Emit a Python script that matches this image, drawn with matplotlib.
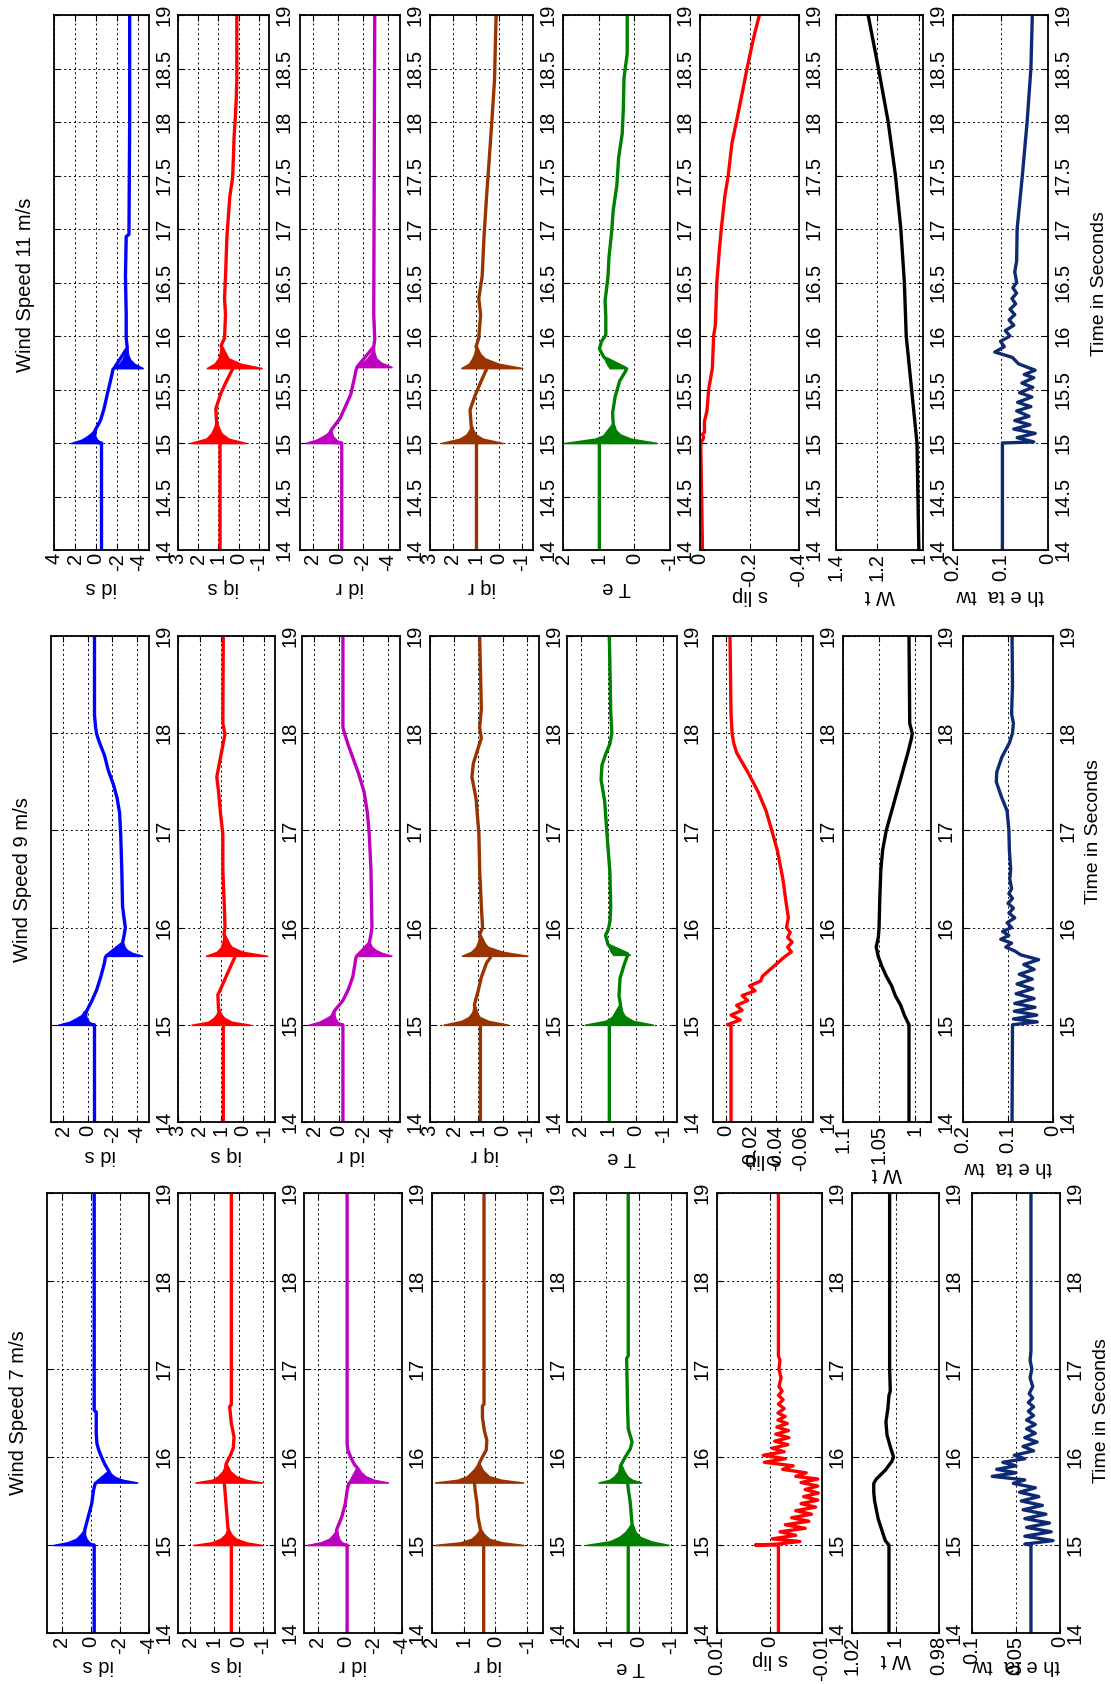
import matplotlib.pyplot as plt

plt.rcParams['font.family'] = ['Liberation Sans Narrow', 'Liberation Sans', 'DejaVu Sans']
plt.rcParams['font.size'] = 14.5

# ---------------- data ----------------
titles = ['Wind Speed 11 m/s', 'Wind Speed 9 m/s', 'Wind Speed 7 m/s']
names = ['id s', 'iq s', 'id r', 'iq r', 'T e', 's lip', 'W t', 'th e ta  tw']
colors = ['#0000ff', '#ff0000', '#bf00bf', '#993300', '#008000', '#ff0000', '#000000', '#0f2a75']

# ---- wind speed 7 m/s
ids7_t = [14, 15.0, 15.01, 15.17, 15.32, 15.47, 15.62, 15.7, 15.71, 15.83, 15.92, 16.0, 16.08, 16.15, 16.26, 16.51, 16.53, 19]
ids7_v = [-0.24, -0.24, 0.6, 0.41, 0.17, -0.07, -0.19, -0.31, -0.4, -1.27, -0.96, -0.74, -0.55, -0.43, -0.38, -0.38, -0.24, -0.24]
ids7_bursts = [([15.0, 15.03, 15.07, 15.12, 15.17], [2.56, 1.6, 1.0, 0.7, 0.45], [-0.24, 0.1, 0.3, 0.4, 0.4]),
               ([15.71, 15.74, 15.77, 15.8, 15.83], [-0.4, -0.6, -0.8, -1.0, -1.2], [-3.19, -2.2, -1.7, -1.45, -1.3])]

iqs7_t = [14, 15.0, 15.19, 15.47, 15.7, 15.71, 15.92, 16.0, 16.1, 16.23, 16.38, 16.57, 16.6, 19]
iqs7_v = [0.3, 0.3, 0.44, 0.52, 0.59, 0.59, 0.52, 0.37, 0.22, 0.19, 0.3, 0.37, 0.3, 0.3]
iqs7_bursts = [([15.0, 15.03, 15.07, 15.12, 15.19], [1.85, 1.1, 0.75, 0.55, 0.45], [-0.96, -0.3, 0.1, 0.3, 0.43]),
               ([15.71, 15.74, 15.78, 15.84, 15.92], [1.78, 1.1, 0.85, 0.65, 0.53], [-0.96, -0.3, 0.1, 0.35, 0.5])]

idr7_t = [14, 15.0, 15.01, 15.17, 15.32, 15.47, 15.62, 15.7, 15.71, 15.87, 15.92, 16.0, 16.08, 16.15, 19]
idr7_v = [-0.08, -0.08, 0.5, 0.68, 0.3, 0.05, -0.08, -0.2, -0.3, -0.84, -0.58, -0.33, -0.13, -0.08, -0.08]
idr7_bursts = [([15.0, 15.03, 15.07, 15.12, 15.17], [2.76, 1.8, 1.2, 0.9, 0.7], [-0.05, 0.3, 0.5, 0.6, 0.66]),
               ([15.71, 15.74, 15.78, 15.83, 15.87], [-0.28, -0.45, -0.6, -0.75, -0.84], [-2.99, -2.0, -1.4, -1.05, -0.9])]

iqr7_t = [14, 15.0, 15.17, 15.32, 15.47, 15.62, 15.7, 15.71, 15.92, 16.0, 16.08, 16.19, 16.3, 16.45, 16.58, 16.6, 19]
iqr7_v = [0.37, 0.37, 0.47, 0.55, 0.58, 0.64, 0.66, 0.66, 0.52, 0.41, 0.29, 0.27, 0.35, 0.41, 0.41, 0.36, 0.36]
iqr7_bursts = [([15.0, 15.03, 15.07, 15.12, 15.17], [1.9, 1.1, 0.75, 0.6, 0.5], [-0.87, -0.2, 0.2, 0.35, 0.45]),
               ([15.71, 15.74, 15.78, 15.85, 15.92], [1.9, 1.2, 0.9, 0.7, 0.55], [-0.87, -0.2, 0.2, 0.4, 0.5])]

te7_t = [14, 15.0, 15.23, 15.49, 15.64, 15.71, 15.72, 15.9, 16.0, 16.09, 16.17, 16.32, 16.55, 17.12, 17.15, 19]
te7_v = [0.32, 0.32, 0.2, 0.26, 0.32, 0.34, 0.6, 0.56, 0.41, 0.26, 0.2, 0.32, 0.34, 0.37, 0.32, 0.32]
te7_bursts = [([15.0, 15.04, 15.09, 15.15, 15.23], [1.62, 0.9, 0.6, 0.4, 0.25], [-0.93, -0.4, -0.05, 0.1, 0.18]),
              ([15.71, 15.74, 15.78, 15.84, 15.9], [1.24, 0.9, 0.75, 0.62, 0.56], [-0.08, 0.2, 0.35, 0.45, 0.52])]

slip7_t = [14.0, 15.0, 15.0, 15.01, 15.04, 15.07, 15.11, 15.15, 15.19, 15.23, 15.27, 15.31, 15.35, 15.39,
           15.43, 15.47, 15.51, 15.55, 15.59, 15.63, 15.67, 15.71, 15.75, 15.78, 15.82, 15.86, 15.9, 15.94,
           15.98, 16.02, 16.06, 16.1, 16.14, 16.18, 16.22, 16.26, 16.3, 16.34, 16.38, 16.42, 16.46, 16.5,
           16.55, 16.6, 16.65, 16.7, 16.75, 16.8, 16.9, 17.0, 17.1, 17.15, 19.0]
slip7_v = [-.0017, -.0017, .0027, -.0015, -.0058, -.0005, -.0050, -.0020, -.0068, -.0030, -.0075, -.0042,
           -.0080, -.0050, -.0088, -.0060, -.0092, -.0065, -.0093, -.0068, -.0092, -.0060, -.0092, -.0050,
           -.0070, -.0025, -.0045, .0010, -.0030, .0012, -.0028, -.0005, -.0035, -.0010, -.0037, -.0012,
           -.0036, -.0014, -.0034, -.0016, -.0030, -.0016, -.0028, -.0017, -.0026, -.0017, -.0024, -.0018,
           -.0022, -.0018, -.0020, -.0017, -.0017]

wt7_t = [14, 15.0, 15.05, 15.2, 15.3, 15.4, 15.5, 15.6, 15.7, 15.75, 15.85, 15.95, 16.0, 16.1, 16.25, 16.4, 16.55, 16.7, 16.75, 17.0, 19]
wt7_v = [1.003, 1.003, 1.0047, 1.0067, 1.008, 1.0088, 1.0096, 1.010, 1.010, 1.0088, 1.0047, 1.0017, 1.0009,
         1.0022, 1.0039, 1.0044, 1.0035, 1.003, 1.0024, 1.0027, 1.0027]

theta7_t = [14.0, 15.0, 15.01, 15.05, 15.1, 15.15, 15.2, 15.25, 15.3, 15.35, 15.4, 15.45, 15.5, 15.55, 15.6,
            15.65, 15.7, 15.74, 15.78, 15.82, 15.86, 15.9, 15.94, 15.98, 16.02, 16.07, 16.12, 16.17, 16.22,
            16.27, 16.32, 16.37, 16.42, 16.47, 16.52, 16.57, 16.62, 16.67, 16.72, 16.8, 16.9, 17.0, 17.1, 17.2, 19.0]
theta7_v = [.033, .033, .040, .008, .040, .010, .038, .012, .040, .016, .042, .020, .044, .024, .046, .028,
            .053, .040, .077, .050, .072, .050, .065, .040, .052, .030, .042, .026, .040, .028, .038, .028,
            .038, .030, .036, .030, .036, .031, .035, .031, .034, .032, .034, .033, .033]

# ---- wind speed 9 m/s
ids9_t = [14, 15.0, 15.01, 15.14, 15.25, 15.36, 15.5, 15.64, 15.69, 15.71, 15.84, 15.93, 16.0, 16.08, 16.22,
          16.59, 16.96, 17.18, 17.33, 17.47, 17.62, 17.77, 17.91, 17.99, 18.06, 18.19, 19]
ids9_v = [-0.55, -0.55, 0.6, 0.1, -0.35, -0.73, -1.08, -1.37, -1.43, -1.52, -2.84, -2.98, -3.07, -2.98, -2.84,
          -2.78, -2.69, -2.6, -2.4, -2.1, -1.67, -1.37, -0.94, -0.73, -0.64, -0.55, -0.55]
ids9_bursts = [([15.0, 15.03, 15.07, 15.1, 15.14], [2.43, 1.5, 0.9, 0.5, 0.3], [-0.55, -0.1, 0.1, 0.15, 0.1]),
               ([15.71, 15.74, 15.77, 15.8, 15.84], [-1.52, -1.9, -2.2, -2.5, -2.7], [-4.44, -3.6, -3.2, -3.0, -2.9])]

iqs9_t = [14, 15.0, 15.16, 15.31, 15.34, 15.49, 15.64, 15.69, 15.71, 15.93, 16.0, 16.22, 16.59, 16.96, 17.18,
          17.4, 17.55, 17.69, 17.84, 17.99, 18.1, 19]
iqs9_v = [0.9, 0.9, 1.12, 1.15, 1.08, 0.78, 0.48, 0.37, 0.37, 0.87, 0.82, 0.85, 0.92, 0.92, 1.03, 1.12, 1.2,
          1.08, 0.95, 0.82, 0.92, 0.9]
iqs9_bursts = [([15.0, 15.03, 15.07, 15.11, 15.16], [2.37, 1.6, 1.35, 1.2, 1.13], [-0.35, 0.5, 0.85, 1.0, 1.1]),
               ([15.71, 15.75, 15.8, 15.86, 15.93], [1.7, 1.2, 1.0, 0.92, 0.88], [-1.13, 0.0, 0.5, 0.75, 0.85])]

idr9_t = [14, 15.0, 15.01, 15.14, 15.25, 15.36, 15.49, 15.64, 15.69, 15.71, 15.84, 15.93, 16.0, 16.22, 16.59,
          16.96, 17.18, 17.4, 17.58, 17.73, 17.88, 17.99, 18.06, 19]
idr9_v = [-0.34, -0.34, 0.8, 0.37, -0.34, -0.77, -1.14, -1.34, -1.4, -1.49, -2.49, -2.63, -2.71, -2.68, -2.63,
          -2.49, -2.34, -2.06, -1.63, -1.2, -0.77, -0.49, -0.34, -0.34]
idr9_bursts = [([15.0, 15.03, 15.07, 15.1, 15.14], [2.46, 1.6, 1.0, 0.6, 0.4], [-0.34, 0.1, 0.3, 0.35, 0.37]),
               ([15.71, 15.74, 15.77, 15.8, 15.84], [-1.49, -1.8, -2.1, -2.3, -2.45], [-4.29, -3.5, -3.0, -2.7, -2.55])]

iqr9_t = [14, 15.0, 15.2, 15.27, 15.34, 15.49, 15.64, 15.69, 15.71, 15.93, 16.0, 16.22, 16.59, 16.96, 17.33,
          17.55, 17.69, 17.84, 17.95, 18.06, 18.25, 19]
iqr9_v = [0.92, 0.92, 1.17, 1.1, 1.02, 0.88, 0.66, 0.51, 0.51, 0.95, 0.83, 0.88, 0.95, 0.98, 1.1, 1.27, 1.21,
          1.02, 0.88, 0.95, 0.88, 0.95]
iqr9_bursts = [([15.0, 15.04, 15.08, 15.13, 15.2], [2.44, 1.7, 1.4, 1.25, 1.18], [-0.22, 0.6, 0.95, 1.1, 1.15]),
               ([15.71, 15.75, 15.8, 15.86, 15.93], [1.68, 1.3, 1.1, 1.0, 0.96], [-1.02, 0.0, 0.6, 0.85, 0.93])]

te9_t = [14, 15.0, 15.2, 15.3, 15.48, 15.62, 15.72, 15.73, 15.82, 15.92, 15.98, 16.06, 16.2, 16.57, 16.94,
         17.3, 17.52, 17.67, 17.78, 17.89, 18.0, 18.22, 19]
te9_v = [0.96, 0.96, 0.55, 0.61, 0.57, 0.42, 0.29, 0.3, 1.0, 1.1, 1.0, 0.94, 0.91, 0.94, 1.04, 1.13, 1.26,
         1.23, 1.1, 0.94, 0.87, 0.91, 0.96]
te9_bursts = [([15.0, 15.04, 15.09, 15.14, 15.2], [1.85, 1.1, 0.8, 0.65, 0.57], [-0.63, 0.1, 0.4, 0.5, 0.54]),
              ([15.72, 15.75, 15.78, 15.82], [0.81, 0.9, 0.95, 1.0], [0.22, 0.45, 0.7, 0.95])]

slip9_t = [14.0, 15.0, 15.0, 15.05, 15.1, 15.15, 15.2, 15.25, 15.3, 15.35, 15.4, 15.45, 15.5, 15.55, 15.6,
           15.65, 15.7, 15.75, 15.8, 15.85, 15.9, 15.95, 16.0, 16.1, 16.3, 16.5, 16.8, 17.0, 17.2, 17.4, 17.6,
           17.7, 17.8, 17.9, 18.0, 18.2, 19.0]
slip9_v = [-.0044, -.0044, -.0015, -.0118, -.0044, -.0133, -.0089, -.0178, -.0133, -.0237, -.0192, -.0281,
           -.0296, -.0340, -.0385, -.0429, -.0473, -.0527, -.0497, -.0533, -.0497, -.0518, -.0488, -.0503,
           -.0480, -.0459, -.0414, -.0370, -.0325, -.0260, -.0178, -.0133, -.0089, -.0065, -.0053, -.0044, -.0036]

wt9_t = [14, 15.0, 15.1, 15.2, 15.3, 15.4, 15.5, 15.6, 15.7, 15.8, 15.9, 16.0, 16.3, 16.6, 16.8, 17.0, 17.2,
         17.4, 17.6, 17.8, 17.95, 18.0, 18.1, 19]
wt9_v = [1.0085, 1.0085, 1.015, 1.02, 1.0275, 1.0325, 1.04, 1.046, 1.051, 1.054, 1.051, 1.05, 1.049, 1.0475,
         1.045, 1.04, 1.0325, 1.025, 1.0175, 1.01, 1.005, 1.004, 1.0075, 1.0085]

theta9_t = [14.0, 15.0, 15.03, 15.06, 15.1, 15.14, 15.18, 15.22, 15.27, 15.32, 15.37, 15.42, 15.47, 15.52,
            15.57, 15.62, 15.67, 15.72, 15.76, 15.8, 15.84, 15.88, 15.92, 15.96, 16.0, 16.05, 16.1, 16.15, 16.2,
            16.25, 16.3, 16.35, 16.4, 16.5, 16.6, 16.8, 17.0, 17.2, 17.35, 17.5, 17.6, 17.75, 17.9, 18.0, 18.1,
            18.2, 18.5, 19.0]
theta9_v = [.091, .090, .035, .088, .036, .086, .040, .085, .042, .082, .045, .080, .046, .075, .042, .065,
            .032, .072, .085, .105, .092, .116, .098, .112, .092, .102, .085, .098, .088, .100, .090, .098,
            .092, .096, .094, .097, .098, .102, .115, .126, .125, .114, .097, .090, .088, .092, .090, .091]

# ---- wind speed 11 m/s
ids11_t = [14, 15.0, 15.01, 15.12, 15.21, 15.32, 15.47, 15.61, 15.69, 15.7, 15.89, 15.98, 16.2, 16.56, 16.93,
           16.95, 18.03, 19]
ids11_v = [-0.5, -0.5, 0.5, 0.1, -0.4, -0.74, -1.08, -1.42, -1.59, -1.7, -2.94, -2.84, -2.84, -2.77, -2.84,
           -3.1, -3.17, -3.17]
ids11_bursts = [([15.0, 15.03, 15.06, 15.09, 15.12], [2.37, 1.4, 0.9, 0.5, 0.2], [-0.5, -0.1, 0.1, 0.1, 0.05]),
                ([15.7, 15.74, 15.78, 15.83, 15.89], [-1.7, -2.2, -2.5, -2.7, -2.85], [-4.4, -3.6, -3.2, -3.0, -2.95])]

iqs11_t = [14, 15.0, 15.21, 15.32, 15.47, 15.61, 15.69, 15.7, 15.91, 15.98, 16.2, 16.35, 16.56, 16.93, 17.3,
           17.48, 17.66, 17.85, 18.03, 18.21, 18.4, 19]
iqs11_v = [0.92, 0.92, 1.1, 1.13, 0.87, 0.52, 0.3, 0.3, 0.87, 0.7, 0.65, 0.7, 0.65, 0.58, 0.44, 0.3, 0.26,
           0.23, 0.17, 0.12, 0.09, 0.09]
iqs11_bursts = [([15.0, 15.04, 15.09, 15.15, 15.21], [2.39, 1.6, 1.35, 1.2, 1.12], [-0.35, 0.5, 0.85, 1.0, 1.08]),
                ([15.7, 15.74, 15.79, 15.85, 15.91], [1.57, 1.2, 1.0, 0.92, 0.88], [-1.13, -0.1, 0.5, 0.75, 0.85])]

idr11_t = [14, 15.0, 15.01, 15.12, 15.23, 15.34, 15.45, 15.6, 15.68, 15.71, 15.9, 15.97, 16.2, 19]
idr11_v = [-0.34, -0.34, 0.8, 0.51, -0.2, -0.63, -1.05, -1.34, -1.48, -1.56, -2.9, -2.98, -2.9, -2.98]
idr11_bursts = [([15.0, 15.03, 15.06, 15.09, 15.12], [2.56, 1.7, 1.2, 0.8, 0.6], [-0.34, 0.1, 0.35, 0.45, 0.5]),
                ([15.71, 15.75, 15.79, 15.84, 15.9], [-1.56, -2.0, -2.4, -2.7, -2.85], [-4.32, -3.5, -3.1, -2.95, -2.9])]

iqr11_t = [14, 15.0, 15.16, 15.31, 15.45, 15.6, 15.69, 15.7, 15.9, 15.98, 16.2, 16.35, 16.56, 16.93, 17.3,
           17.66, 18.03, 18.4, 18.76, 19]
iqr11_v = [0.97, 0.97, 1.2, 1.25, 1.02, 0.72, 0.53, 0.53, 0.99, 0.87, 0.79, 0.87, 0.72, 0.64, 0.53, 0.41,
           0.29, 0.18, 0.14, 0.11]
iqr11_bursts = [([15.0, 15.04, 15.08, 15.12, 15.16], [2.5, 1.7, 1.4, 1.28, 1.22], [-0.17, 0.7, 1.0, 1.12, 1.18]),
                ([15.7, 15.74, 15.79, 15.84, 15.9], [1.63, 1.3, 1.15, 1.05, 1.0], [-1.03, 0.0, 0.6, 0.85, 0.95])]

te11_t = [14, 15.0, 15.17, 15.28, 15.43, 15.58, 15.68, 15.7, 15.8, 15.88, 15.95, 16.01, 16.18, 16.33, 16.55,
          16.74, 16.96, 17.18, 17.41, 17.67, 17.89, 18.11, 18.41, 18.64, 19]
te11_v = [0.98, 0.98, 0.59, 0.61, 0.54, 0.41, 0.23, 0.25, 0.85, 0.98, 0.92, 0.8, 0.8, 0.82, 0.74, 0.71, 0.64,
          0.59, 0.49, 0.44, 0.34, 0.31, 0.29, 0.2, 0.2]
te11_bursts = [([15.0, 15.04, 15.08, 15.12, 15.17], [1.94, 1.1, 0.8, 0.68, 0.6], [-0.63, 0.1, 0.4, 0.52, 0.57]),
               ([15.7, 15.73, 15.76, 15.8], [0.69, 0.75, 0.8, 0.85], [0.2, 0.4, 0.6, 0.82])]

slip11_t = [14, 15.0, 15.05, 15.08, 15.1, 15.2, 15.3, 15.5, 15.7, 16.0, 16.1, 16.5, 16.8, 17.0, 17.3, 17.5,
            17.8, 18.0, 18.3, 18.5, 18.8, 19]
slip11_v = [-0.01, -0.003, -0.015, -0.01, -0.018, -0.018, -0.028, -0.035, -0.05, -0.055, -0.062, -0.068,
            -0.078, -0.086, -0.1, -0.114, -0.129, -0.147, -0.173, -0.19, -0.218, -0.24]

wt11_t = [14, 15.0, 15.5, 16.0, 16.5, 17.0, 17.5, 18.0, 18.5, 19]
wt11_v = [1.0, 1.009, 1.035, 1.061, 1.07, 1.087, 1.113, 1.148, 1.195, 1.245]

theta11_t = [14.0, 15.0, 15.01, 15.05, 15.09, 15.13, 15.17, 15.21, 15.25, 15.3, 15.34, 15.38, 15.43, 15.47,
             15.52, 15.56, 15.61, 15.64, 15.68, 15.74, 15.8, 15.85, 15.9, 15.95, 16.0, 16.05, 16.1, 16.15, 16.2,
             16.25, 16.3, 16.35, 16.4, 16.45, 16.5, 16.6, 16.7, 17.0, 17.5, 18.0, 18.5, 19.0]
theta11_v = [.096, .096, .030, .065, .027, .072, .038, .070, .040, .066, .036, .064, .034, .060, .032, .055,
             .030, .050, .027, .062, .075, .112, .092, .100, .080, .090, .072, .082, .070, .080, .068, .076,
             .066, .074, .066, .070, .066, .065, .054, .044, .036, .033]

# value-axis limits and ticks of each panel
lims11 = [(-5, 4), (-1.5, 3), (-5, 3), (-1.5, 3), (-1, 2), (-0.4, 0), (0.98, 1.4), (0, 0.2)]
ticks11 = [[-4, -2, 0, 2, 4], [-1, 0, 1, 2, 3], [-4, -2, 0, 2], [-1, 0, 1, 2, 3], [-1, 0, 1, 2],
           [-0.4, -0.2, 0], [1, 1.2, 1.4], [0, 0.1, 0.2]]
lims9 = [(-5, 3), (-1.5, 3), (-5, 3), (-1.5, 3), (-1.5, 2.5), (-0.07, 0.01), (0.978, 1.098), (0, 0.2)]
ticks9 = [[-4, -2, 0, 2], [-1, 0, 1, 2, 3], [-4, -2, 0, 2], [-1, 0, 1, 2, 3], [-1, 0, 1, 2],
          [-0.06, -0.04, -0.02, 0], [1, 1.05, 1.1], [0, 0.1, 0.2]]
lims7 = [(-4, 3), (-1.5, 2.5), (-4, 3), (-1.5, 2), (-1.5, 2), (-0.01, 0.01), (0.98, 1.02), (0, 0.1)]
ticks7 = [[-4, -2, 0, 2], [-1, 0, 1, 2], [-4, -2, 0, 2], [-1, 0, 1, 2], [-1, 0, 1, 2],
          [-0.01, 0, 0.01], [0.98, 1, 1.02], [0, 0.05, 0.1]]
time_ticks_11 = [14, 14.5, 15, 15.5, 16, 16.5, 17, 17.5, 18, 18.5, 19]
time_ticks = [14, 15, 16, 17, 18, 19]

# ---------------- layout (pixels of the 1111 x 1684 page) ----------------
W, H = 1111, 1684
cols11 = [(54, 149), (178, 269), (300, 400), (430, 533), (563, 670), (700, 799), (836, 923), (953, 1048)]
cols9 = [(51, 149), (178, 275), (302, 400), (430, 539), (567, 677), (713, 813), (843, 931), (963, 1053)]
cols7 = [(47, 149), (178, 275), (304, 402), (432, 543), (574, 687), (717, 822), (852, 939), (972, 1060)]
rows = [(15, 550), (636, 1122), (1193, 1633)]
# distance (px) from the panel's lower edge to the centre of its quantity label
label_off = [[38, 38, 38, 38, 37, 45, 45, 45],
             [33, 33, 33, 33, 35, 38, 51, 45],
             [33, 33, 33, 33, 34, 27, 27, 32]]

fig = plt.figure(figsize=(W / 100, H / 100), dpi=100)


def panel(col, row, t, v, bursts, color, lim, ticks, tticks, label, off):
    x0, x1 = col
    y0, y1 = row
    ax = fig.add_axes([x0 / W, 1 - y1 / H, (x1 - x0) / W, (y1 - y0) / H])
    ax.set_axisbelow(True)
    for bt, ba, bb in bursts:
        ax.fill_betweenx(bt, ba, bb, color=color, lw=1.2)
    ax.plot(v, t, color=color, lw=2.4, solid_joinstyle='round')
    ax.set_xlim(lim[1], lim[0])
    ax.set_ylim(14, 19)
    ax.set_xticks(ticks, ['%g' % k for k in ticks])
    ax.set_yticks(tticks, ['%g' % k for k in tticks])
    ax.yaxis.tick_right()
    ax.tick_params(direction='in', length=4, width=0.8, top=True, bottom=True,
                   left=True, right=True, labelleft=False, labelright=True)
    ax.tick_params(axis='x', labelrotation=90, pad=2)
    ax.tick_params(axis='y', labelrotation=90, pad=4)
    for lb in ax.get_yticklabels():
        lb.set_va('center')
    ax.grid(True, color='k', ls=(0, (2, 3)), lw=0.7)
    ax.text(0.5, -off / (y1 - y0), label, transform=ax.transAxes, rotation=180,
            ha='center', va='center', fontsize=14.5)
    for s in ax.spines.values():
        s.set_linewidth(1.3)
    return ax


data11 = [(ids11_t, ids11_v, ids11_bursts), (iqs11_t, iqs11_v, iqs11_bursts), (idr11_t, idr11_v, idr11_bursts),
          (iqr11_t, iqr11_v, iqr11_bursts), (te11_t, te11_v, te11_bursts), (slip11_t, slip11_v, []),
          (wt11_t, wt11_v, []), (theta11_t, theta11_v, [])]
data9 = [(ids9_t, ids9_v, ids9_bursts), (iqs9_t, iqs9_v, iqs9_bursts), (idr9_t, idr9_v, idr9_bursts),
         (iqr9_t, iqr9_v, iqr9_bursts), (te9_t, te9_v, te9_bursts), (slip9_t, slip9_v, []),
         (wt9_t, wt9_v, []), (theta9_t, theta9_v, [])]
data7 = [(ids7_t, ids7_v, ids7_bursts), (iqs7_t, iqs7_v, iqs7_bursts), (idr7_t, idr7_v, idr7_bursts),
         (iqr7_t, iqr7_v, iqr7_bursts), (te7_t, te7_v, te7_bursts), (slip7_t, slip7_v, []),
         (wt7_t, wt7_v, []), (theta7_t, theta7_v, [])]

groups = [(cols11, data11, lims11, ticks11, time_ticks_11),
          (cols9, data9, lims9, ticks9, time_ticks),
          (cols7, data7, lims7, ticks7, time_ticks)]

for g, (cols, data, lims, ticks, tt) in enumerate(groups):
    for k in range(8):
        t, v, b = data[k]
        panel(cols[k], rows[g], t, v, b, colors[k], lims[k], ticks[k], tt, names[k], label_off[g][k])

# group titles on the left, time label on the right
title_pos = [(26, 285), (23, 880), (19, 1413)]
xlabel_pos = [(1100, 284), (1093, 832), (1101, 1411)]
for g in range(3):
    fig.text(title_pos[g][0] / W, 1 - title_pos[g][1] / H, titles[g], rotation=90,
             ha='center', va='center', fontsize=14.5)
    fig.text(xlabel_pos[g][0] / W, 1 - xlabel_pos[g][1] / H, 'Time in Seconds', rotation=90,
             ha='center', va='center', fontsize=14)

fig.savefig('out.png', dpi=100)
